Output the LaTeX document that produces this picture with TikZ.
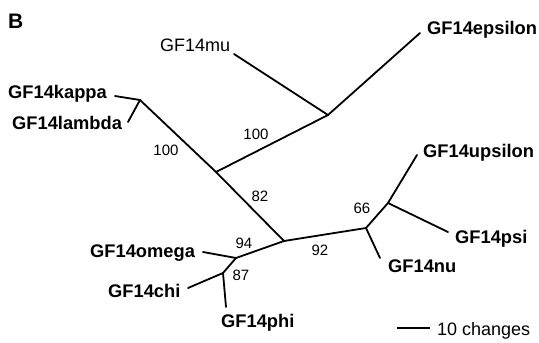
\documentclass[tikz,border=0pt]{standalone}
\usepackage{fontspec}
\setmainfont{Liberation Sans}
\begin{document}
\begin{tikzpicture}[x=1pt,y=-1pt,
  br/.style={line width=1.8pt,line cap=round},
  taxon/.style={anchor=base west,inner sep=0pt,font=\fontsize{18.3}{18}\selectfont\bfseries},
  taxonr/.style={anchor=base west,inner sep=0pt,font=\fontsize{18}{18}\selectfont},
  boot/.style={inner sep=0pt,font=\fontsize{15}{15}\selectfont}]
\useasboundingbox (0,0) rectangle (539,343);
\node[inner sep=0pt,anchor=base west,font=\fontsize{21}{21}\selectfont\bfseries] (panel) at (8,28) {B};
% internal nodes
\coordinate (kj) at (140,100);
\coordinate (A) at (216,172);
\coordinate (M) at (328,115);
\coordinate (C) at (284,241);
\coordinate (D) at (366,228);
\coordinate (E) at (388,203);
\coordinate (F) at (236,258);
\coordinate (G) at (223,273);
% leaf ends
\coordinate (kappaend) at (115,96);
\coordinate (lambdaend) at (128,122);
\coordinate (muend) at (234,54);
\coordinate (epsend) at (420,33);
\coordinate (upsend) at (417,155);
\coordinate (psiend) at (448,232);
\coordinate (nuend) at (380,258);
\coordinate (omegaend) at (203,252);
\coordinate (chiend) at (188,288);
\coordinate (phiend) at (226,307);
% branches
\draw[br] (kj) -- (kappaend);
\draw[br] (kj) -- (lambdaend);
\draw[br] (kj) -- (A);
\draw[br] (A) -- (M);
\draw[br] (M) -- (muend);
\draw[br] (M) -- (epsend);
\draw[br] (A) -- (C);
\draw[br] (C) -- (D);
\draw[br] (D) -- (E);
\draw[br] (E) -- (upsend);
\draw[br] (E) -- (psiend);
\draw[br] (D) -- (nuend);
\draw[br] (C) -- (F);
\draw[br] (F) -- (omegaend);
\draw[br] (F) -- (G);
\draw[br] (G) -- (chiend);
\draw[br] (G) -- (phiend);
% taxa
\node[taxon] (kappa) at (8,98) {GF14kappa};
\node[taxon] (lambda) at (12,129) {GF14lambda};
\node[taxonr] (mu) at (160,51) {GF14mu};
\node[taxon] (epsilon) at (427,34) {GF14epsilon};
\node[taxon] (upsilon) at (423,157) {GF14upsilon};
\node[taxon] (psi) at (455,243) {GF14psi};
\node[taxon] (nu) at (388,272) {GF14nu};
\node[taxon] (omega) at (90,257) {GF14omega};
\node[taxon] (chi) at (108,297) {GF14chi};
\node[taxon] (phi) at (221,327) {GF14phi};
% bootstrap values
\node[boot] (b1) at (166,150) {100};
\node[boot] (b2) at (256,134) {100};
\node[boot] (b3) at (260,196) {82};
\node[boot] (b4) at (244,243) {94};
\node[boot] (b5) at (241,275) {87};
\node[boot] (b6) at (320,250) {92};
\node[boot] (b7) at (362,208) {66};
% scale bar
\coordinate (s1) at (397,328);
\coordinate (s2) at (430,328);
\draw[br,line cap=butt] (s1) -- (s2);
\node[taxonr] (scale) at (437,335) {10 changes};
\end{tikzpicture}
\end{document}
